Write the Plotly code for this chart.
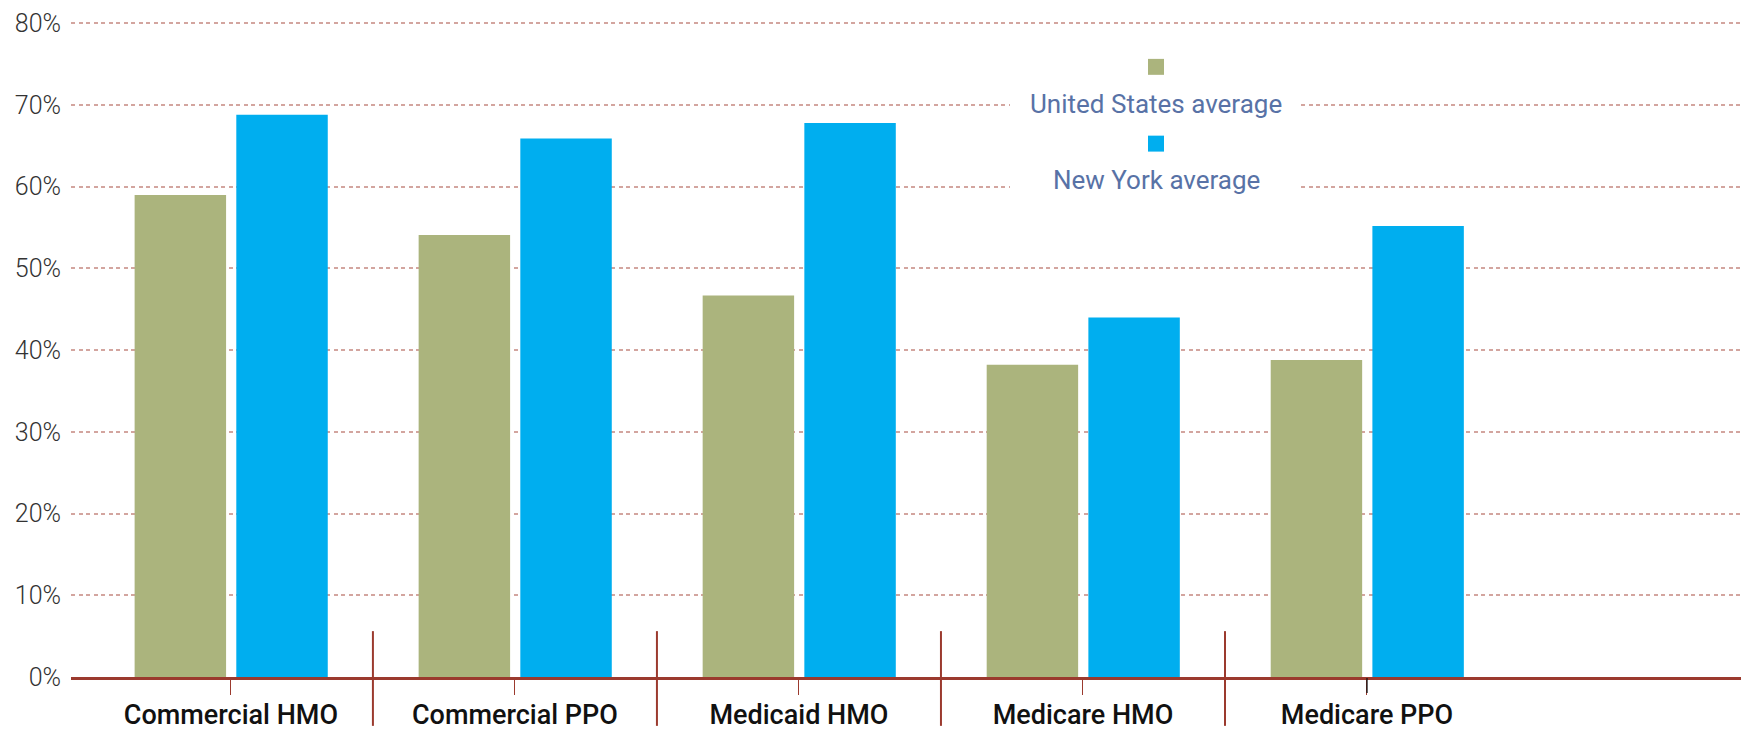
import plotly.graph_objects as go

categories = ["Commercial HMO", "Commercial PPO", "Medicaid HMO", "Medicare HMO", "Medicare PPO"]
us_average = [59.0, 54.1, 46.7, 38.2, 38.8]
ny_average = [68.8, 65.9, 67.8, 44.0, 55.2]
series_names = ["United States average", "New York average"]
y_ticks = [0, 10, 20, 30, 40, 50, 60, 70, 80]
y_tick_labels = ["0%", "10%", "20%", "30%", "40%", "50%", "60%", "70%", "80%"]

GREEN = "#ABB47D"
BLUE = "#00AEEF"
AXIS = "#9B3A2E"
GRID = "#D3A59F"
LEG_TXT = "#5872A6"

# page body has an 8px margin: work in screen coordinates, then offset
OFF = 8
SW, SH = 1749, 731
W, H = SW - OFF, SH - OFF
PLOT_L, PLOT_R, PLOT_T, PLOT_B = 71, 1749, 20, 679   # screen coords
ML, MR, MT, MB = PLOT_L - OFF, SW - PLOT_R, PLOT_T - OFF, SH - PLOT_B
PW, PH = PLOT_R - PLOT_L, PLOT_B - PLOT_T
Y_TOP = 80 + 3.3 * 80 / (PLOT_B - 23)


def px_x(x):
    return (x - PLOT_L) / PW


def px_y(y):
    return (PLOT_B - y) / PH


fig = go.Figure()
fig.add_trace(go.Bar(x=categories, y=us_average, name=series_names[0],
                     marker=dict(color=GREEN, line=dict(width=0)),
                     width=0.322, offset=-0.339, showlegend=False, hoverinfo="skip"))
fig.add_trace(go.Bar(x=categories, y=ny_average, name=series_names[1],
                     marker=dict(color=BLUE, line=dict(width=0)),
                     width=0.322, offset=0.019, showlegend=False, hoverinfo="skip"))

shapes = []
for i in range(len(categories) - 1):
    shapes.append(dict(type="line", xref="x", yref="paper", x0=i + 0.5, x1=i + 0.5,
                       y0=px_y(633), y1=px_y(728), line=dict(color=AXIS, width=2), layer="above"))
shapes.append(dict(type="line", xref="x", yref="paper", x0=4, x1=4,
                   y0=px_y(680), y1=px_y(695), line=dict(color="#111111", width=1.3), layer="above"))
shapes.append(dict(type="rect", xref="paper", yref="paper", x0=px_x(1010), x1=px_x(1300),
                   y0=px_y(200), y1=px_y(40), fillcolor="white", line=dict(width=0), layer="above"))
for col, top in [(GREEN, 59), (BLUE, 136)]:
    shapes.append(dict(type="rect", xref="paper", yref="paper", x0=px_x(1148), x1=px_x(1164),
                       y0=px_y(top + 16), y1=px_y(top), fillcolor=col, line=dict(width=0), layer="above"))

annotations = []
for name, yc in [(series_names[0], 104), (series_names[1], 180)]:
    annotations.append(dict(text=name, xref="paper", yref="paper", x=px_x(1156), y=px_y(yc),
                            xanchor="center", yanchor="middle", showarrow=False,
                            font=dict(family="Roboto", size=26, color=LEG_TXT)))

fig.update_layout(
    width=W, height=H,
    margin=dict(l=ML, r=MR, t=MT, b=MB, pad=0),
    paper_bgcolor="white", plot_bgcolor="white",
    barmode="overlay",
    shapes=shapes, annotations=annotations,
    showlegend=False,
    xaxis=dict(type="category", categoryorder="array", categoryarray=categories,
               range=[-0.563, 5.345], showgrid=False, zeroline=False,
               showline=True, linecolor=AXIS, linewidth=3,
               ticks="outside", ticklen=15, tickwidth=1.3, tickcolor=AXIS,
               ticklabelstandoff=-3,
               tickfont=dict(family="Roboto", size=27, color="#111111", weight=500),
               fixedrange=True),
    yaxis=dict(range=[0, Y_TOP], tickvals=y_ticks, ticktext=y_tick_labels,
               showgrid=True, gridcolor=GRID, gridwidth=1.6, griddash="4px,3.5px",
               zeroline=False, showline=False, ticks="", ticklabelstandoff=9,
               tickfont=dict(family="Roboto", size=25, color="#333333", weight=300),
               fixedrange=True),
)

fig.write_html("out.html")
